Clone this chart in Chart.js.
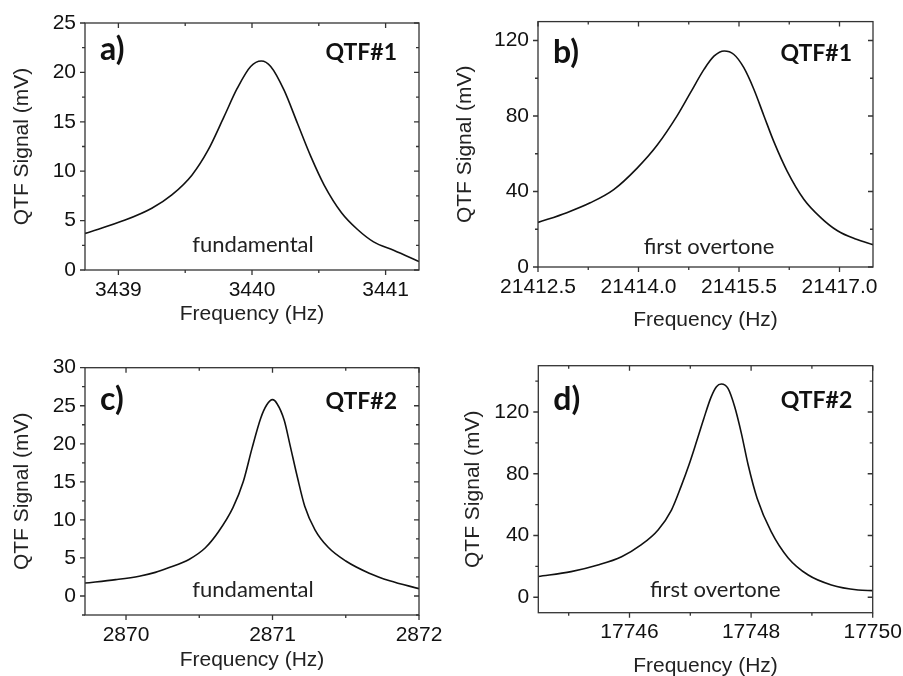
<!DOCTYPE html>
<html>
<head>
<meta charset="utf-8">
<title>QTF resonance curves</title>
<script src="https://cdn.jsdelivr.net/npm/chart.js@4.4.1/dist/chart.umd.min.js"></script>
<style>
  html, body { margin: 0; padding: 0; background: #fff; }
  body { width: 903px; height: 676px; position: relative; overflow: hidden; }
  canvas { position: absolute; }
</style>
</head>
<body>
<canvas id="chart-a"></canvas>
<canvas id="chart-b"></canvas>
<canvas id="chart-c"></canvas>
<canvas id="chart-d"></canvas>
<script>
// a) QTF#1 fundamental
const freqA = [3438.75, 3439.05, 3439.25, 3439.4, 3439.55, 3439.67, 3439.79, 3439.89, 3439.99, 3440.07,
    3440.14, 3440.24, 3440.34, 3440.44, 3440.54, 3440.67, 3440.79, 3440.91, 3441.06, 3441.25];
const signalA = [3.7, 5.05, 6.25, 7.6, 9.6, 12.1, 15.5, 18.4, 20.6, 21.15,
    20.6, 18.2, 14.85, 11.5, 8.6, 5.8, 4.1, 2.85, 2.0, 0.85];
const xTicksA = [3439, 3440, 3441];
const yTicksA = [0, 5, 10, 15, 20, 25];

// b) QTF#1 first overtone
const freqB = [21412.5, 21412.93, 21413.28, 21413.63, 21413.98, 21414.28, 21414.58, 21414.78, 21414.98, 21415.13,
    21415.28, 21415.42, 21415.57, 21415.72, 21415.87, 21416.02, 21416.22, 21416.47, 21416.72, 21416.97, 21417.24, 21417.51];
const signalB = [23.6, 28.8, 34, 41, 52.4, 64.6, 80.3, 92.6, 104.8, 111.8,
    114.4, 112.7, 105.7, 94.3, 80.3, 66.4, 50.7, 35.8, 26.2, 19.2, 14.8, 11.7];
const xTicksB = [21412.5, 21414.0, 21415.5, 21417.0];
const yTicksB = [0, 40, 80, 120];

// c) QTF#2 fundamental
const freqC = [2869.72, 2869.93, 2870.09, 2870.2, 2870.29, 2870.43, 2870.54, 2870.63, 2870.73, 2870.8, 2870.86, 2870.92, 2870.96,
    2871.0, 2871.03, 2871.08, 2871.12, 2871.17, 2871.22, 2871.29, 2871.38, 2871.5, 2871.66, 2871.8, 2872.0];
const signalC = [1.7, 2.15, 2.6, 3.1, 3.7, 4.8, 6.3, 8.4, 11.6, 15.0, 19.4, 23.4, 25.1,
    25.8, 25.3, 23.1, 19.8, 15.6, 11.8, 8.7, 6.4, 4.6, 3.0, 2.0, 0.96];
const xTicksC = [2870, 2871, 2872];
const yTicksC = [0, 5, 10, 15, 20, 25, 30];

// d) QTF#2 first overtone
const freqD = [17744.5, 17745.04, 17745.48, 17745.87, 17746.19, 17746.47, 17746.69, 17746.85, 17746.98, 17747.1, 17747.22, 17747.34,
    17747.43, 17747.51, 17747.62, 17747.73, 17747.84, 17747.95, 17748.1, 17748.33, 17748.61, 17748.94, 17749.32, 17749.76, 17750.0];
const signalD = [13.4, 16.6, 20.9, 26.3, 33.9, 43.6, 56.5, 72, 86, 100.5, 115.5, 129.5,
    136.4, 138.1, 135.3, 123.4, 106.2, 86, 64, 42.5, 25.5, 14.4, 8.0, 4.7, 4.3];
const xTicksD = [17746, 17748, 17750];
const yTicksD = [0, 40, 80, 120];

const tickFont = { family: "'Liberation Sans', Arial, sans-serif", size: 21 };
const titleFont = { family: "'Liberation Sans', Arial, sans-serif", size: 21 };
const halfTick = 21 * 1.2 / 2;
const halfTitle = 21 * 1.2 / 2;

// box = canvas [x, y, w, h], area = plot frame [left, top, right, bottom] in page pixels
const panels = [
    { id: 'chart-a', box: [0, 0, 451, 338], area: [85, 23, 419, 270],
      freq: freqA, signal: signalA, xTicks: xTicksA, yTicks: yTicksA,
      xRange: [3438.75, 3441.25], yRange: [0, 25], xMinor: 0.5, yMinor: 2.5,
      fmt: v => String(v), yTitleX: 22, xTitleY: 314, xLabelY: 290,
      tag: 'a)', qtf: 'QTF#1', mode: 'fundamental',
      tagPos: [15, 37], qtfPos: [312, 37], modePos: [168, 229] },
    { id: 'chart-b', box: [451, 0, 452, 338], area: [538, 19, 873, 267],
      freq: freqB, signal: signalB, xTicks: xTicksB, yTicks: yTicksB,
      xRange: [21412.5, 21417.5], yRange: [0, 130], xMinor: 0.75, yMinor: 20,
      fmt: v => v.toFixed(1), yTitleX: 465, xTitleY: 320, xLabelY: 287,
      tag: 'b)', qtf: 'QTF#1', mode: 'first overtone',
      tagPos: [15, 41], qtfPos: [314, 39], modePos: [171, 232] },
    { id: 'chart-c', box: [0, 338, 451, 338], area: [85, 367.7, 419, 615],
      freq: freqC, signal: signalC, xTicks: xTicksC, yTicks: yTicksC,
      xRange: [2869.72, 2872], yRange: [-2.5, 30], xMinor: 0.5, yMinor: 2.5,
      fmt: v => String(v), yTitleX: 22, xTitleY: 660, xLabelY: 635,
      tag: 'c)', qtf: 'QTF#2', mode: 'fundamental',
      tagPos: [15, 42], qtfPos: [312, 41], modePos: [168, 229] },
    { id: 'chart-d', box: [451, 338, 480, 345], area: [538.3, 365.7, 872.7, 612.7],
      freq: freqD, signal: signalD, xTicks: xTicksD, yTicks: yTicksD,
      xRange: [17744.5, 17750], yRange: [-10, 150], xMinor: 1, yMinor: 20,
      fmt: v => String(v), yTitleX: 473, xTitleY: 666, xLabelY: 632,
      tag: 'd)', qtf: 'QTF#2', mode: 'first overtone',
      tagPos: [15, 44], qtfPos: [314, 42], modePos: [177, 231] }
];

function minorValues(anchor, step, range, majors) {
    const out = [];
    let v = anchor - Math.floor((anchor - range[0]) / step + 1e-9) * step;
    for (; v <= range[1] + 1e-9; v += step) {
        if (!majors.some(m => Math.abs(m - v) < 1e-6)) out.push(v);
    }
    return out;
}

// frame, mirrored ticks and panel labels
function framePlugin(p) {
    return {
        id: 'frame',
        afterDraw(chart) {
            const { ctx, chartArea: { left, top, right, bottom }, scales: { x, y } } = chart;
            const major = 5, minor = 3;
            ctx.save();
            ctx.strokeStyle = '#333';
            ctx.lineWidth = 1.3;
            ctx.strokeRect(left, top, right - left, bottom - top);

            ctx.beginPath();
            const xTick = (v, len) => {
                const px = x.getPixelForValue(v);
                ctx.moveTo(px, bottom); ctx.lineTo(px, bottom + len);
                ctx.moveTo(px, top); ctx.lineTo(px, top + len);
            };
            const yTick = (v, len) => {
                const py = y.getPixelForValue(v);
                ctx.moveTo(left, py); ctx.lineTo(left - len, py);
                ctx.moveTo(right, py); ctx.lineTo(right - len, py);
            };
            p.xTicks.forEach(v => xTick(v, major));
            minorValues(p.xTicks[0], p.xMinor, p.xRange, p.xTicks).forEach(v => xTick(v, minor));
            p.yTicks.forEach(v => yTick(v, major));
            minorValues(p.yTicks[0], p.yMinor, p.yRange, p.yTicks).forEach(v => yTick(v, minor));
            ctx.stroke();

            ctx.textBaseline = 'alphabetic';
            ctx.fillStyle = '#111';
            ctx.font = 'bold 32px Lato';
            ctx.textAlign = 'left';
            ctx.fillText(p.tag, left + p.tagPos[0], top + p.tagPos[1]);
            ctx.font = 'bold 23px Lato';
            ctx.textAlign = 'right';
            ctx.fillText(p.qtf, left + p.qtfPos[0], top + p.qtfPos[1]);
            ctx.font = '22px Lato';
            ctx.textAlign = 'center';
            ctx.fillStyle = '#222';
            ctx.fillText(p.mode, left + p.modePos[0], top + p.modePos[1]);
            ctx.restore();
        }
    };
}

function renderPanel(p) {
    const canvas = document.getElementById(p.id);
    const [bx, by, bw, bh] = p.box;
    const [L, T, R, B] = p.area;
    canvas.width = bw;
    canvas.height = bh;
    canvas.style.left = bx + 'px';
    canvas.style.top = by + 'px';

    new Chart(canvas, {
        type: 'scatter',
        data: {
            datasets: [{
                data: p.freq.map((f, i) => ({ x: f, y: p.signal[i] })),
                showLine: true,
                borderColor: '#111',
                borderWidth: 1.6,
                pointRadius: 0,
                cubicInterpolationMode: 'monotone'
            }]
        },
        options: {
            responsive: false,
            animation: false,
            events: [],
            layout: { padding: { left: 0, top: T - by, right: bx + bw - R, bottom: 0 } },
            plugins: { legend: { display: false }, tooltip: { enabled: false } },
            scales: {
                x: {
                    type: 'linear',
                    min: p.xRange[0],
                    max: p.xRange[1],
                    grid: { display: false, drawTicks: false },
                    border: { display: false },
                    afterBuildTicks: s => { s.ticks = p.xTicks.map(v => ({ value: v })); },
                    afterFit: s => { s.height = by + bh - B; },
                    ticks: { padding: p.xLabelY - B - halfTick, color: '#111', font: tickFont, maxRotation: 0,
                             autoSkip: false, callback: v => p.fmt(v) },
                    title: { display: true, text: 'Frequency (Hz)', color: '#222', font: titleFont,
                             padding: { top: 0, bottom: by + bh - p.xTitleY - halfTitle } }
                },
                y: {
                    type: 'linear',
                    min: p.yRange[0],
                    max: p.yRange[1],
                    grid: { display: false, drawTicks: false },
                    border: { display: false },
                    afterBuildTicks: s => { s.ticks = p.yTicks.map(v => ({ value: v })); },
                    afterFit: s => { s.width = L - bx; },
                    ticks: { padding: 9, color: '#111', font: tickFont, autoSkip: false },
                    title: { display: true, text: 'QTF Signal (mV)', color: '#222', font: titleFont,
                             padding: { top: p.yTitleX - bx - halfTitle, bottom: 0 } }
                }
            }
        },
        plugins: [framePlugin(p)]
    });
}

panels.forEach(renderPanel);
</script>
</body>
</html>
